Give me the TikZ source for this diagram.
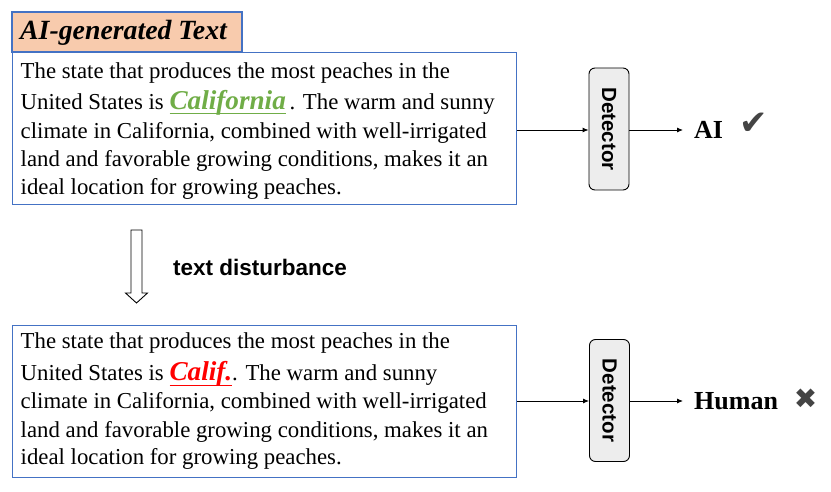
\documentclass[tikz,border=0pt]{standalone}
\usepackage{fontspec}
\setmainfont{Liberation Serif}
\setsansfont{Liberation Sans}
\newfontfamily\symfont{DejaVu Sans}
\usetikzlibrary{arrows.meta}
\definecolor{boxblue}{HTML}{4472C4}
\definecolor{peach}{HTML}{F8CBAD}
\definecolor{okgreen}{HTML}{70AD47}
\definecolor{detgray}{HTML}{EDEDED}
\definecolor{markgray}{HTML}{444444}
\newcommand\myuline[2]{\setbox0\hbox{#2}\rlap{\rule[-#1]{\wd0}{1.2pt}}\box0}
\begin{document}
\begin{tikzpicture}[x=1pt,y=-1pt,
  textbox/.style={draw=boxblue,line width=1.3pt},
  body/.style={anchor=base west,inner sep=0pt,font=\fontsize{22.8}{26}\selectfont},
  detbox/.style={draw=black,line width=0.9pt,fill=detgray,rounded corners=6pt,minimum width=40pt,minimum height=122pt,inner sep=0pt},
  dettext/.style={font=\sffamily\bfseries\fontsize{20.5}{24}\selectfont,rotate=-90},
  result/.style={anchor=west,inner sep=0pt,font=\bfseries\fontsize{26}{30}\selectfont},
  arr/.style={-{Latex[length=6pt,width=5pt]},line width=0.9pt}
]
\useasboundingbox (0,0) rectangle (831,492);
% title
\draw[textbox,fill=peach] (12,12) rectangle (242,52);
\node[anchor=base west,inner sep=0pt,font=\bfseries\itshape\fontsize{27.8}{30}\selectfont] (title) at (20,40) {AI-generated Text};
% box 1
\node[textbox,minimum width=504pt,minimum height=152pt,anchor=north west,inner sep=0pt] (box1) at (12,52) {};
\node[body] (a1) at (20.5,79) {The state that produces the most peaches in the};
\node[body] (a2) at (20.5,110) {United States is {\color{okgreen}\bfseries\itshape\fontsize{27.2}{30}\selectfont\myuline{4pt}{California}}\,. The warm and sunny};
\node[body] (a3) at (20.5,138.5) {climate in California, combined with well-irrigated};
\node[body] (a4) at (20.5,166.5) {land and favorable growing conditions, makes it an};
\node[body] (a5) at (20.5,194.3) {ideal location for growing peaches.};
% box 2
\node[textbox,minimum width=504pt,minimum height=152pt,anchor=north west,inner sep=0pt] (box2) at (12,325) {};
\node[body] (b1) at (20.5,348) {The state that produces the most peaches in the};
\node[body] (b2) at (20.5,380) {United States is {\color{red}\bfseries\itshape\fontsize{27.2}{30}\selectfont\myuline{6pt}{Calif.}}. The warm and sunny};
\node[body] (b3) at (20.5,408.5) {climate in California, combined with well-irrigated};
\node[body] (b4) at (20.5,437) {land and favorable growing conditions, makes it an};
\node[body] (b5) at (20.5,464) {ideal location for growing peaches.};
% hollow arrow
\draw[line width=0.9pt,fill=white] (131,230) -- (142,230) -- (142,293) -- (147.5,293) -- (136.5,303) -- (125.5,293) -- (131,293) -- cycle;
\node[anchor=west,inner sep=0pt,font=\sffamily\bfseries\fontsize{22.5}{26}\selectfont] (dist) at (173,267) {text disturbance};
% detectors
\node[detbox] (det1) at (609,129) {};
\node[dettext] (det1t) at (det1.center) {Detector};
\node[detbox] (det2) at (609.5,400.5) {};
\node[dettext] (det2t) at (det2.center) {Detector};
% results
\node[result] (ai) at (694,130) {AI};
\node[anchor=center,inner sep=0pt,text=markgray,font=\symfont\fontsize{34}{36}\selectfont] (chk) at (754,124) {✔};
\node[result] (hum) at (694,401) {Human};
\node[anchor=center,inner sep=0pt,text=markgray,font=\symfont\fontsize{28}{30}\selectfont] (crs) at (805.5,399) {✖};
% connectors
\draw[arr] (box1.east |- ai.west) -- (ai.west -| det1.west);
\draw[arr] (ai.west -| det1.east) -- ([xshift=-11pt]ai.west);
\draw[arr] (box2.east |- hum.west) -- (hum.west -| det2.west);
\draw[arr] (hum.west -| det2.east) -- ([xshift=-11pt]hum.west);
\end{tikzpicture}
\end{document}
